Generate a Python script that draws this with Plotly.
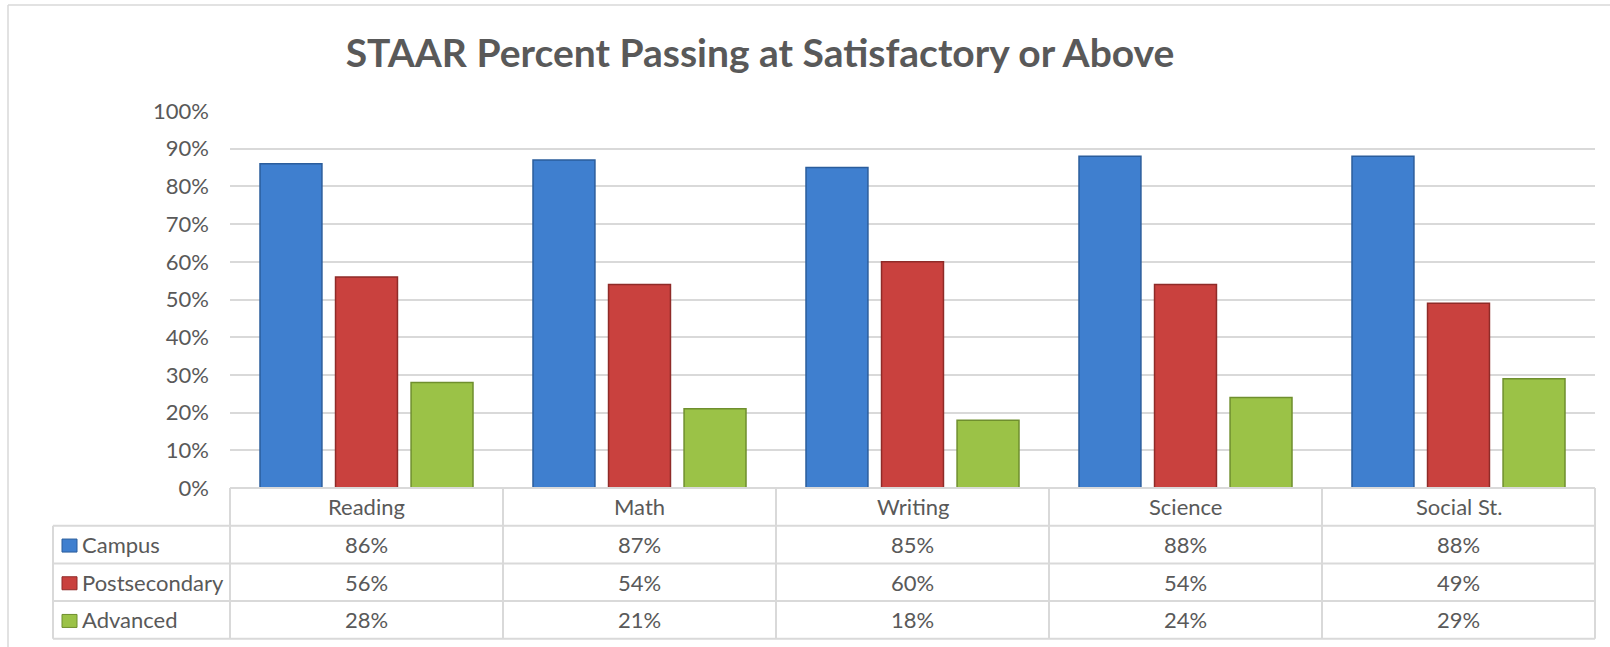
import plotly.graph_objects as go

categories = ["Reading", "Math", "Writing", "Science", "Social St."]
series_names = ["Campus", "Postsecondary", "Advanced"]
campus = [86, 87, 85, 88, 88]
postsecondary = [56, 54, 60, 54, 49]
advanced = [28, 21, 18, 24, 29]
y_ticks = [0, 10, 20, 30, 40, 50, 60, 70, 80, 90, 100]

series_values = [campus, postsecondary, advanced]
fill_colors = ["#3f7fcf", "#c9413e", "#9bc247"]
edge_colors = ["#2b5d9c", "#8f2b28", "#6f8f2e"]

FONT = "Lato, 'Open Sans', sans-serif"
TXT = "#595959"
GRID = "#d9d9d9"

W, H = 1610, 647
L, R, T, B = 230, 15, 111, 159
pw, ph = W - L - R, H - T - B

def px_x(px):
    return (px - L) / pw

def px_y(py):
    return (H - B - py) / ph

fig = go.Figure()
for name, vals, fc, ec in zip(series_names, series_values, fill_colors, edge_colors):
    fig.add_trace(go.Bar(
        x=categories, y=[v / 100 for v in vals], name=name,
        marker=dict(color=fc, line=dict(color=ec, width=1.5)),
        showlegend=False,
    ))

shapes = []
annotations = []
line = dict(color=GRID, width=2)
left_x = px_x(53)
n = len(categories)
nrows = len(series_names)
# table horizontal lines
shapes.append(dict(type="line", xref="paper", yref="paper", x0=0, x1=1, y0=0, y1=0, line=line))
for k in range(1, nrows + 2):
    shapes.append(dict(type="line", xref="paper", yref="paper", x0=left_x, x1=1,
                       y0=-0.1 * k, y1=-0.1 * k, line=line))
# table vertical lines
shapes.append(dict(type="line", xref="paper", yref="paper", x0=left_x, x1=left_x,
                   y0=-0.1, y1=-0.1 * (nrows + 1), line=line))
for k in range(n + 1):
    shapes.append(dict(type="line", xref="paper", yref="paper", x0=k / n, x1=k / n,
                       y0=0, y1=-0.1 * (nrows + 1), line=line))
# outer chart border
shapes.append(dict(type="line", xref="paper", yref="paper", x0=px_x(8), x1=px_x(8),
                   y0=px_y(5), y1=px_y(H), line=dict(color=GRID, width=1.5)))
shapes.append(dict(type="line", xref="paper", yref="paper", x0=px_x(8), x1=px_x(W),
                   y0=px_y(5), y1=px_y(5), line=dict(color=GRID, width=1.5)))

# header row: category names
for c in categories:
    annotations.append(dict(x=c, y=-0.05, xref="x", yref="paper", text=c, showarrow=False,
                            xanchor="center", yanchor="middle",
                            font=dict(family=FONT, size=22, color=TXT)))
# data rows
for i, (name, vals, fc, ec) in enumerate(zip(series_names, series_values, fill_colors, edge_colors)):
    yc = -0.1 * (i + 1) - 0.05
    for c, v in zip(categories, vals):
        annotations.append(dict(x=c, y=yc, xref="x", yref="paper", text=f"{v}%", showarrow=False,
                                xanchor="center", yanchor="middle",
                                font=dict(family=FONT, size=22, color=TXT)))
    annotations.append(dict(x=px_x(80), y=yc, xref="paper", yref="paper", text=name, showarrow=False,
                            xanchor="left", yanchor="middle",
                            font=dict(family=FONT, size=22, color=TXT)))
    hs = 6.5 / ph
    shapes.append(dict(type="rect", xref="paper", yref="paper", x0=px_x(62), x1=px_x(77),
                       y0=yc - hs - 1 / ph, y1=yc + hs - 1 / ph, fillcolor=fc, line=dict(color=ec, width=1)))

fig.update_layout(
    width=W, height=H,
    margin=dict(l=L, r=R, t=T, b=B, pad=0),
    paper_bgcolor="white", plot_bgcolor="white",
    barmode="group", bargap=0.17, bargroupgap=0.18,
    title=dict(text="<b>STAAR Percent Passing at Satisfactory or Above</b>",
               x=760 / W, xanchor="center", y=1 - 53 / H, yanchor="middle",
               font=dict(family=FONT, size=39, color=TXT)),
    xaxis=dict(showticklabels=False, showgrid=False, zeroline=False, showline=False, ticks=""),
    yaxis=dict(range=[0, 1], tickvals=[t / 100 for t in y_ticks],
               ticktext=[f"{t}%" for t in y_ticks],
               showgrid=True, gridcolor=GRID, gridwidth=2, zeroline=False, showline=False,
               ticks="", ticklabelstandoff=20,
               tickfont=dict(family=FONT, size=22, color=TXT)),
    shapes=shapes, annotations=annotations,
)

fig.write_html("out.html", config={"displayModeBar": False},
               post_script="document.body.style.margin='0';document.body.style.overflow='hidden';")
